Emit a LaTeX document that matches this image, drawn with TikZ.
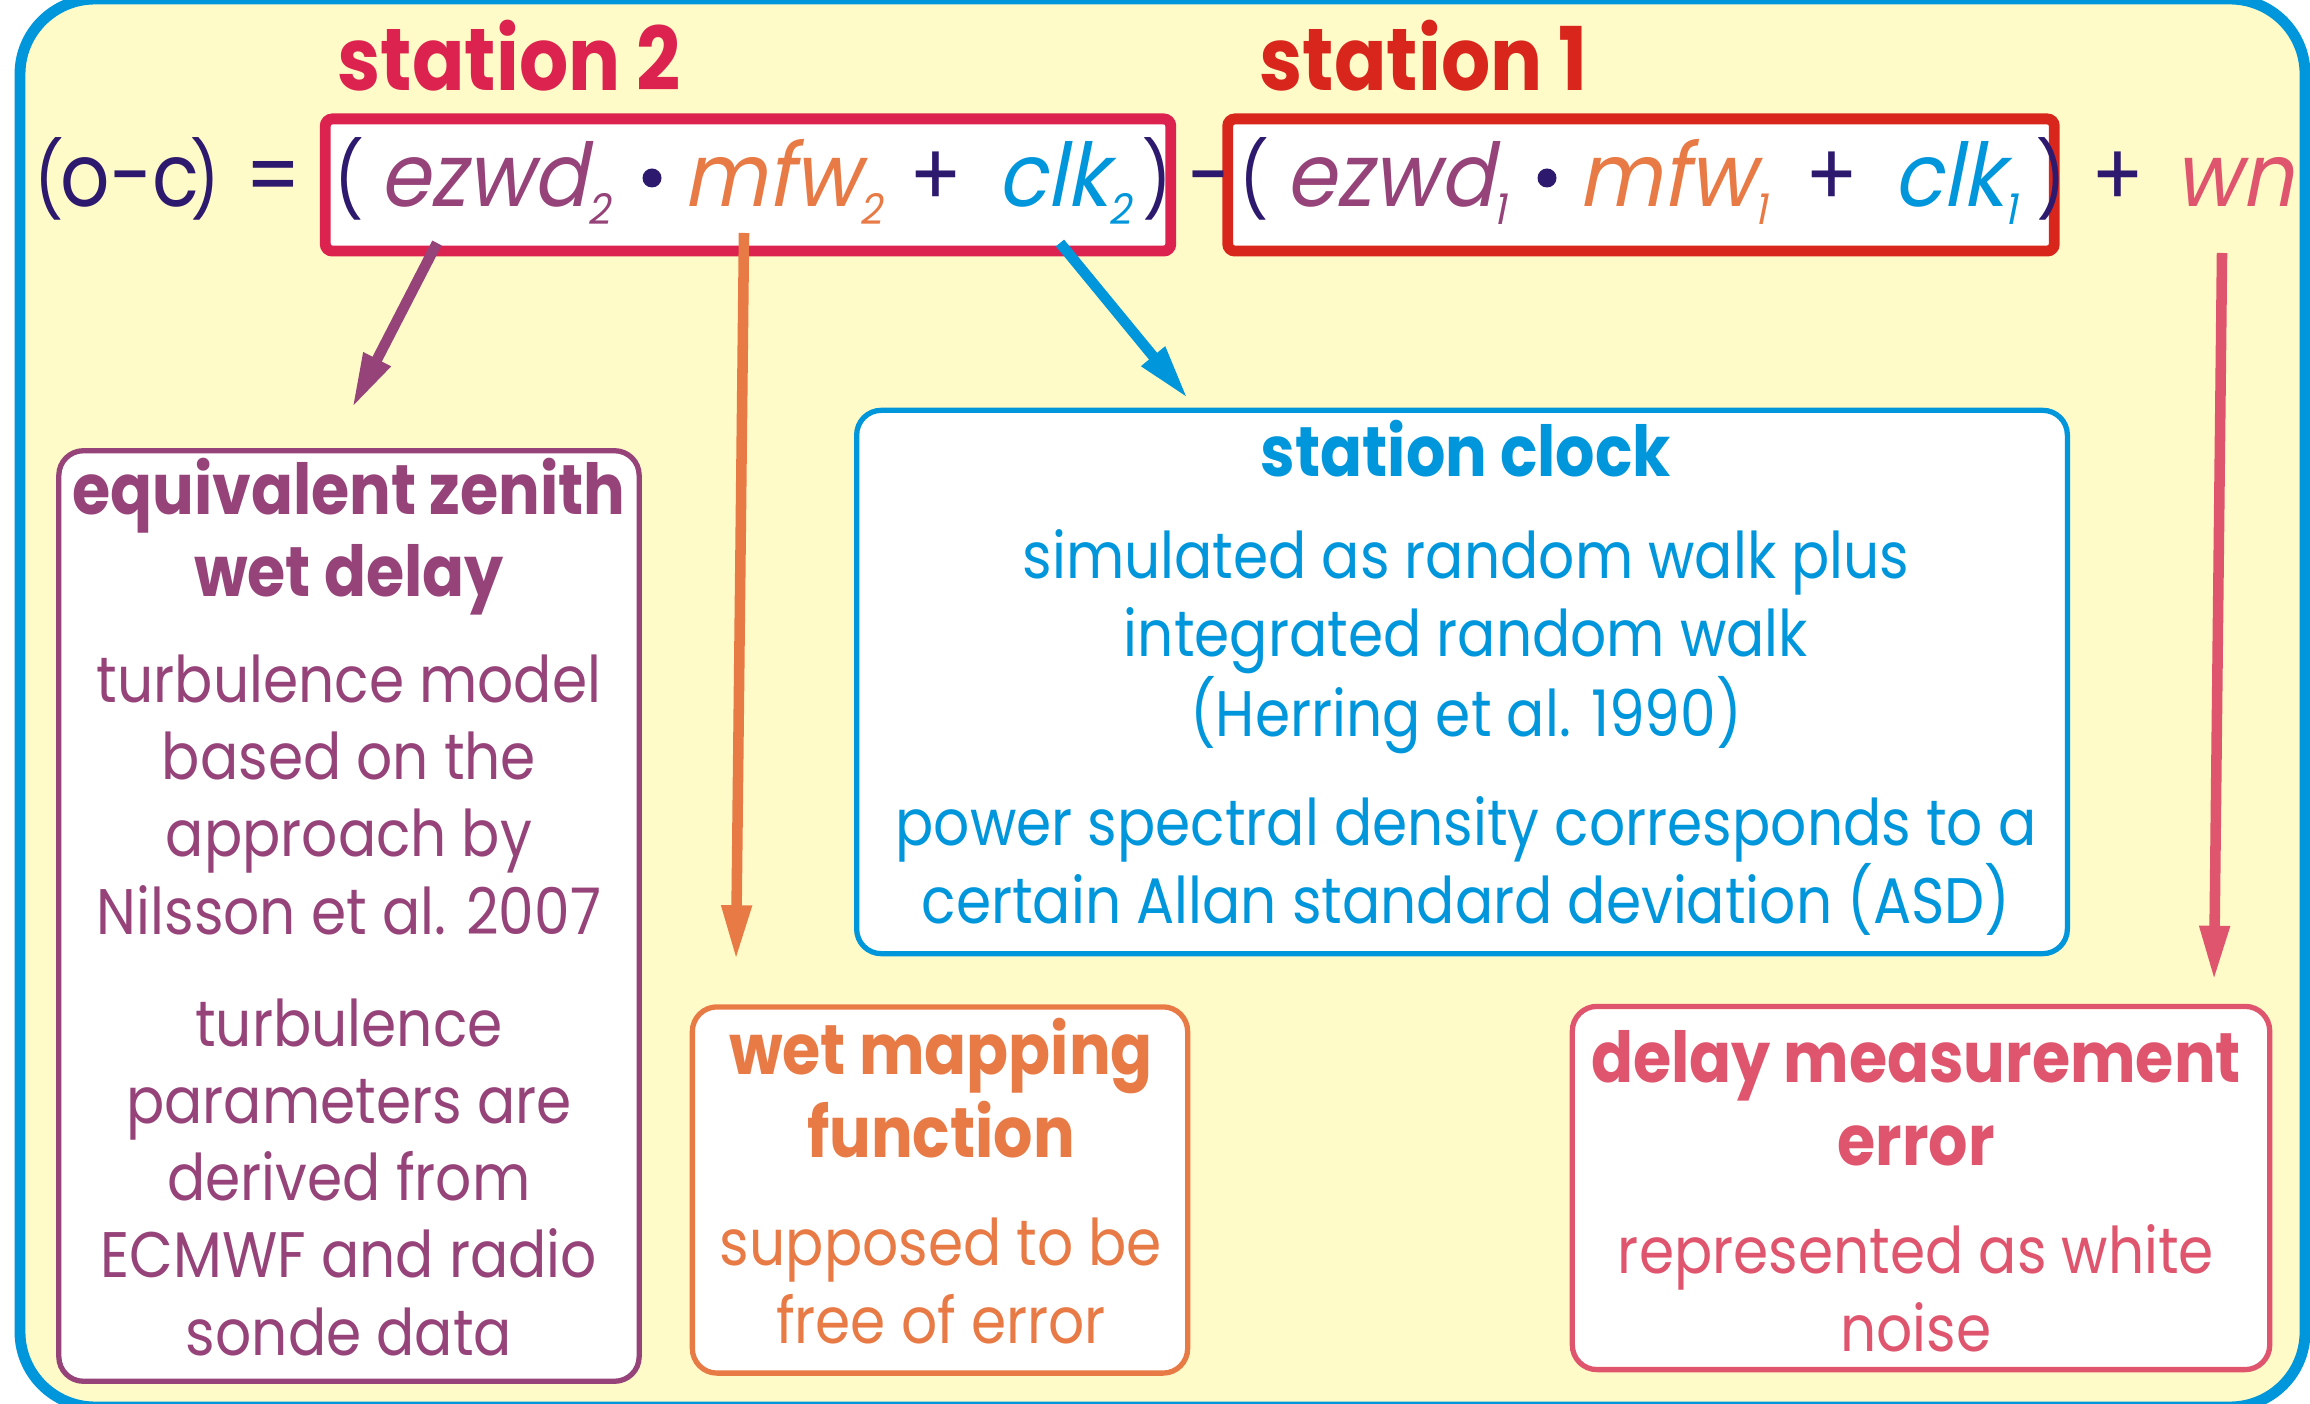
\documentclass[tikz,border=0pt]{standalone}
\usepackage{fontspec}
\setmainfont{Poppins}[FakeStretch=0.88]
\newfontfamily\slantfont{Poppins}[FakeSlant=0.2, FakeStretch=0.92]
\usetikzlibrary{arrows.meta, calc}
\definecolor{framecol}{RGB}{0,150,220}
\definecolor{paper}{RGB}{255,251,200}
\definecolor{eqdark}{RGB}{45,25,110}
\definecolor{ezwdcol}{RGB}{150,67,122}
\definecolor{mfwcol}{RGB}{232,122,70}
\definecolor{clkcol}{RGB}{0,150,220}
\definecolor{wncol}{RGB}{224,85,110}
\definecolor{stationtwo}{RGB}{220,35,80}
\definecolor{stationone}{RGB}{217,38,28}

% term with its subscript
\newcommand{\eqterm}[2]{{\slantfont #1\raisebox{-0.17cm}{\fontsize{12}{12}\selectfont #2}}}

\tikzset{
  eqtext/.style={anchor=base west, inner sep=0pt, font=\fontsize{25}{30}\selectfont},
  eqparen/.style={anchor=base west, inner sep=0pt, font=\fontsize{21}{25}\selectfont},
  eqdot/.style={circle, fill=eqdark, inner sep=0pt, minimum size=0.19cm},
  stationlabel/.style={anchor=base west, inner sep=0pt, font=\bfseries\fontsize{25}{30}\selectfont},
  stationbox/.style={line width=3.1pt, fill=white, rounded corners=2pt, inner sep=0pt},
  infobox/.style={line width=1.5pt, fill=white, rounded corners=7pt, inner sep=0pt},
  boxhead/.style={anchor=base, align=center, inner sep=0pt, font=\bfseries\fontsize{20}{23.5}\selectfont},
  boxbody/.style={anchor=base, align=center, inner sep=0pt, font=\fontsize{18.3}{21.9}\selectfont},
  pointer/.style={line width=3pt, -{Triangle[length=5.5mm, width=2.8mm]}},
}

\begin{document}
\begin{tikzpicture}[x=0.01cm, y=-0.01cm]
  \useasboundingbox (0,0) rectangle (2310,1404);
  \clip (0,0) rectangle (2310,1404);

  % frame
  \draw[framecol, line width=3.1pt, fill=paper, rounded corners=0.75cm] (20,-1) rectangle (2305,1407);

  % station boxes
  \node[stationbox, draw=stationtwo, minimum width=8.45cm, minimum height=1.32cm] (st2box) at (748,185) {};
  \node[stationbox, draw=stationone, minimum width=8.26cm, minimum height=1.32cm] (st1box) at (1641,185) {};
  \node[stationlabel, stationtwo] (st2label) at (337,91) {station 2};
  \node[stationlabel, stationone] (st1label) at (1259,91) {station 1};

  % equation
  \node[eqparen, eqdark] (lhsl) at (34,207) {(};
  \node[eqtext, eqdark] (lhs) at (60,207) {o-c};
  \node[eqparen, eqdark] (lhsr) at (190,207) {)};
  \node[eqtext, eqdark] (eqsign) at (245,207) {=};
  \node[eqparen, eqdark] (lpar2) at (334,207) {(};
  \node[eqtext, ezwdcol] (ezwd2) at (379,207) {\eqterm{ezwd}{2}};
  \node[eqdot] (dot2) at (652,178) {};
  \node[eqtext, mfwcol] (mfw2) at (683,207) {\eqterm{mfw}{2}};
  \node[eqtext, eqdark] (plus2) at (909,207) {+};
  \node[eqtext, clkcol] (clk2) at (997,207) {\eqterm{clk}{2}};
  \node[eqparen, eqdark] (rpar2) at (1142,207) {)};
  \node[eqtext, eqdark] (minus) at (1188,207) {-};
  \node[eqparen, eqdark] (lpar1) at (1239,207) {(};
  \node[eqtext, ezwdcol] (ezwd1) at (1285,207) {\eqterm{ezwd}{1}};
  \node[eqdot] (dot1) at (1547,178) {};
  \node[eqtext, mfwcol] (mfw1) at (1578,207) {\eqterm{mfw}{1}};
  \node[eqtext, eqdark] (plus1) at (1805,207) {+};
  \node[eqtext, clkcol] (clk1) at (1893,207) {\eqterm{clk}{1}};
  \node[eqparen, eqdark] (rpar1) at (2036,207) {)};
  \node[eqtext, eqdark] (plusw) at (2091,207) {+};
  \node[eqtext, wncol] (wn) at (2174,207) {{\slantfont wn}};

  % boxes
  \node[infobox, draw=ezwdcol, minimum width=5.80cm, minimum height=9.30cm] (ezwdbox) at (349,916) {};
  \node[infobox, draw=mfwcol, minimum width=4.95cm, minimum height=3.66cm] (mfwbox) at (940,1190) {};
  \node[infobox, draw=clkcol, minimum width=12.10cm, minimum height=5.43cm] (clkbox) at (1462,682) {};
  \node[infobox, draw=wncol, minimum width=6.97cm, minimum height=3.63cm] (wnbox) at (1921,1188) {};

  % box texts (base = last line)
  \node[boxhead, ezwdcol] (ezwdhead) at (349,597) {equivalent zenith\\wet delay};
  \node[boxbody, ezwdcol] (ezwdtxta) at (349,934) {turbulence model\\based on the\\approach by\\Nilsson et al. 2007};
  \node[boxbody, ezwdcol] (ezwdtxtb) at (349,1355) {turbulence\\parameters are\\derived from\\ECMWF and radio\\sonde data};

  \node[boxhead, mfwcol] (mfwhead) at (941,1157) {wet mapping\\function};
  \node[boxbody, mfwcol] (mfwtxt) at (941,1343) {supposed to be\\free of error};

  \node[boxhead, clkcol] (clkhead) at (1466,477) {station clock};
  \node[boxbody, clkcol] (clktxta) at (1466,737) {simulated as random walk plus\\integrated random walk\\(Herring et al. 1990)};
  \node[boxbody, clkcol] (clktxtb) at (1466,923) {power spectral density corresponds to a\\certain Allan standard deviation (ASD)};

  \node[boxhead, wncol] (wnhead) at (1916,1165) {delay measurement\\error};
  \node[boxbody, wncol] (wntxt) at (1916,1351) {represented as white\\noise};

  % arrows
  \draw[pointer, ezwdcol] ($(ezwd2.base west)+(58,36)$) -- ($(ezwdbox.north)+(3,-40)$);
  \draw[pointer, mfwcol] ($(mfw2.base west)+(61,26)$) -- ($(mfwbox.north)+(-204,-44)$);
  \draw[pointer, clkcol] ($(clk2.base west)+(63,36)$) -- ($(clkbox.north)+(-274,-9)$);
  \draw[pointer, wncol] ($(wn.base west)+(48,46)$) -- ($(wnbox.north)+(293,-23)$);
\end{tikzpicture}
\end{document}
